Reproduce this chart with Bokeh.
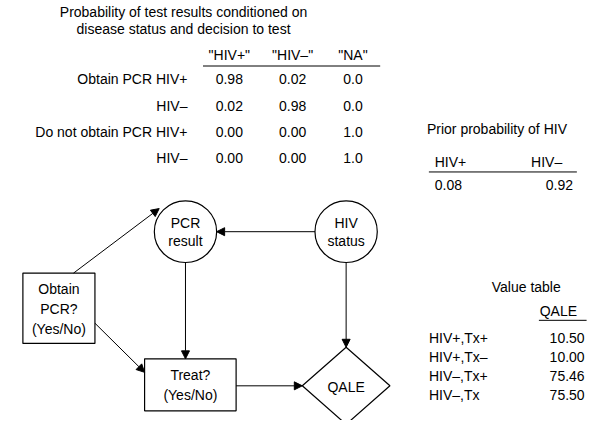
from bokeh.plotting import figure
from bokeh.models import Range1d, Arrow, NormalHead
from bokeh.core.properties import value
from bokeh.embed import file_html
from bokeh.resources import INLINE

FONT = value("Liberation Sans")

# conditional probability table
col_labels = ['"HIV+"', '"HIV\u2013"', '"NA"']
row_labels = ["Obtain PCR HIV+", "HIV\u2013", "Do not obtain PCR HIV+", "HIV\u2013"]
prob_rows = [["0.98", "0.02", "0.0"],
             ["0.02", "0.98", "0.0"],
             ["0.00", "0.00", "1.0"],
             ["0.00", "0.00", "1.0"]]

# prior
prior_labels = ["HIV+", "HIV\u2013"]
prior_values = ["0.08", "0.92"]

# value table
value_labels = ["HIV+,Tx+", "HIV+,Tx\u2013", "HIV\u2013,Tx+", "HIV\u2013,Tx"]
qale_values = ["10.50", "10.00", "75.46", "75.50"]

p = figure(width=590, height=420, output_backend="svg", toolbar_location=None,
           x_range=Range1d(0, 606), y_range=Range1d(436, 0), min_border=0)
p.axis.visible = False
p.grid.visible = False
p.outline_line_color = None


def txt(x, y, t, align="left", size="14px"):
    p.text(x=[x], y=[y], text=[t], text_font=FONT, text_font_size=size,
           text_align=align, text_baseline="middle", text_color="black")


def line(xs, ys):
    p.line(xs, ys, line_color="black", line_width=1)


txt(188, 12, "Probability of test results conditioned on", "center")
txt(188, 30, "disease status and decision to test", "center")
col_x = [235, 300, 362]
for cx, lab in zip(col_x, col_labels):
    txt(cx, 57, lab, "center")
line([208, 390], [68, 68])
row_y = [82, 110, 137, 164]
for i, (ry, lab, vals) in enumerate(zip(row_y, row_labels, prob_rows)):
    txt(192, ry, lab, "right")
    for cx, v in zip(col_x, vals):
        txt(cx, ry, v, "center")

txt(438, 133, "Prior probability of HIV")
txt(446, 168, prior_labels[0])
txt(545, 168, prior_labels[1])
line([440, 592], [178, 178])
txt(446, 192, prior_values[0])
txt(560, 192, prior_values[1])

txt(540, 297, "Value table", "center")
txt(573, 322, "QALE", "center")
line([553, 602], [332, 332])
for vy, lab, v in zip([350, 370, 390, 410], value_labels, qale_values):
    txt(440, vy, lab)
    txt(600, vy, v, "right")

# nodes
p.ellipse(x=[190, 355], y=[240, 240], width=64, height=64,
          fill_color="white", line_color="black", line_width=1.2)
txt(190, 231, "PCR", "center")
txt(190, 250, "result", "center")
txt(355, 231, "HIV", "center")
txt(355, 250, "status", "center")

p.quad(left=[23, 148], right=[97, 242], top=[283, 372], bottom=[356, 426],
       fill_color="white", line_color="black", line_width=1.2)
txt(60, 299, "Obtain", "center")
txt(60, 320, "PCR?", "center")
txt(60, 341, "(Yes/No)", "center")
txt(195, 389, "Treat?", "center")
txt(195, 410, "(Yes/No)", "center")

p.patch([355, 400, 355, 310], [360, 400, 440, 400], fill_color="white",
        line_color="black", line_width=1.2)
txt(355, 401, "QALE", "center")

arrows = [(323, 240, 222, 240), (75, 283, 163, 216), (97, 335, 148, 386),
          (190, 272, 190, 372), (242, 400, 310, 400), (355, 272, 355, 360)]
for x0, y0, x1, y1 in arrows:
    p.add_layout(Arrow(end=NormalHead(size=8, fill_color="black", line_color="black"),
                       x_start=x0, y_start=y0, x_end=x1, y_end=y1,
                       line_color="black", line_width=1))

open("out.html", "w").write(file_html(p, INLINE))
